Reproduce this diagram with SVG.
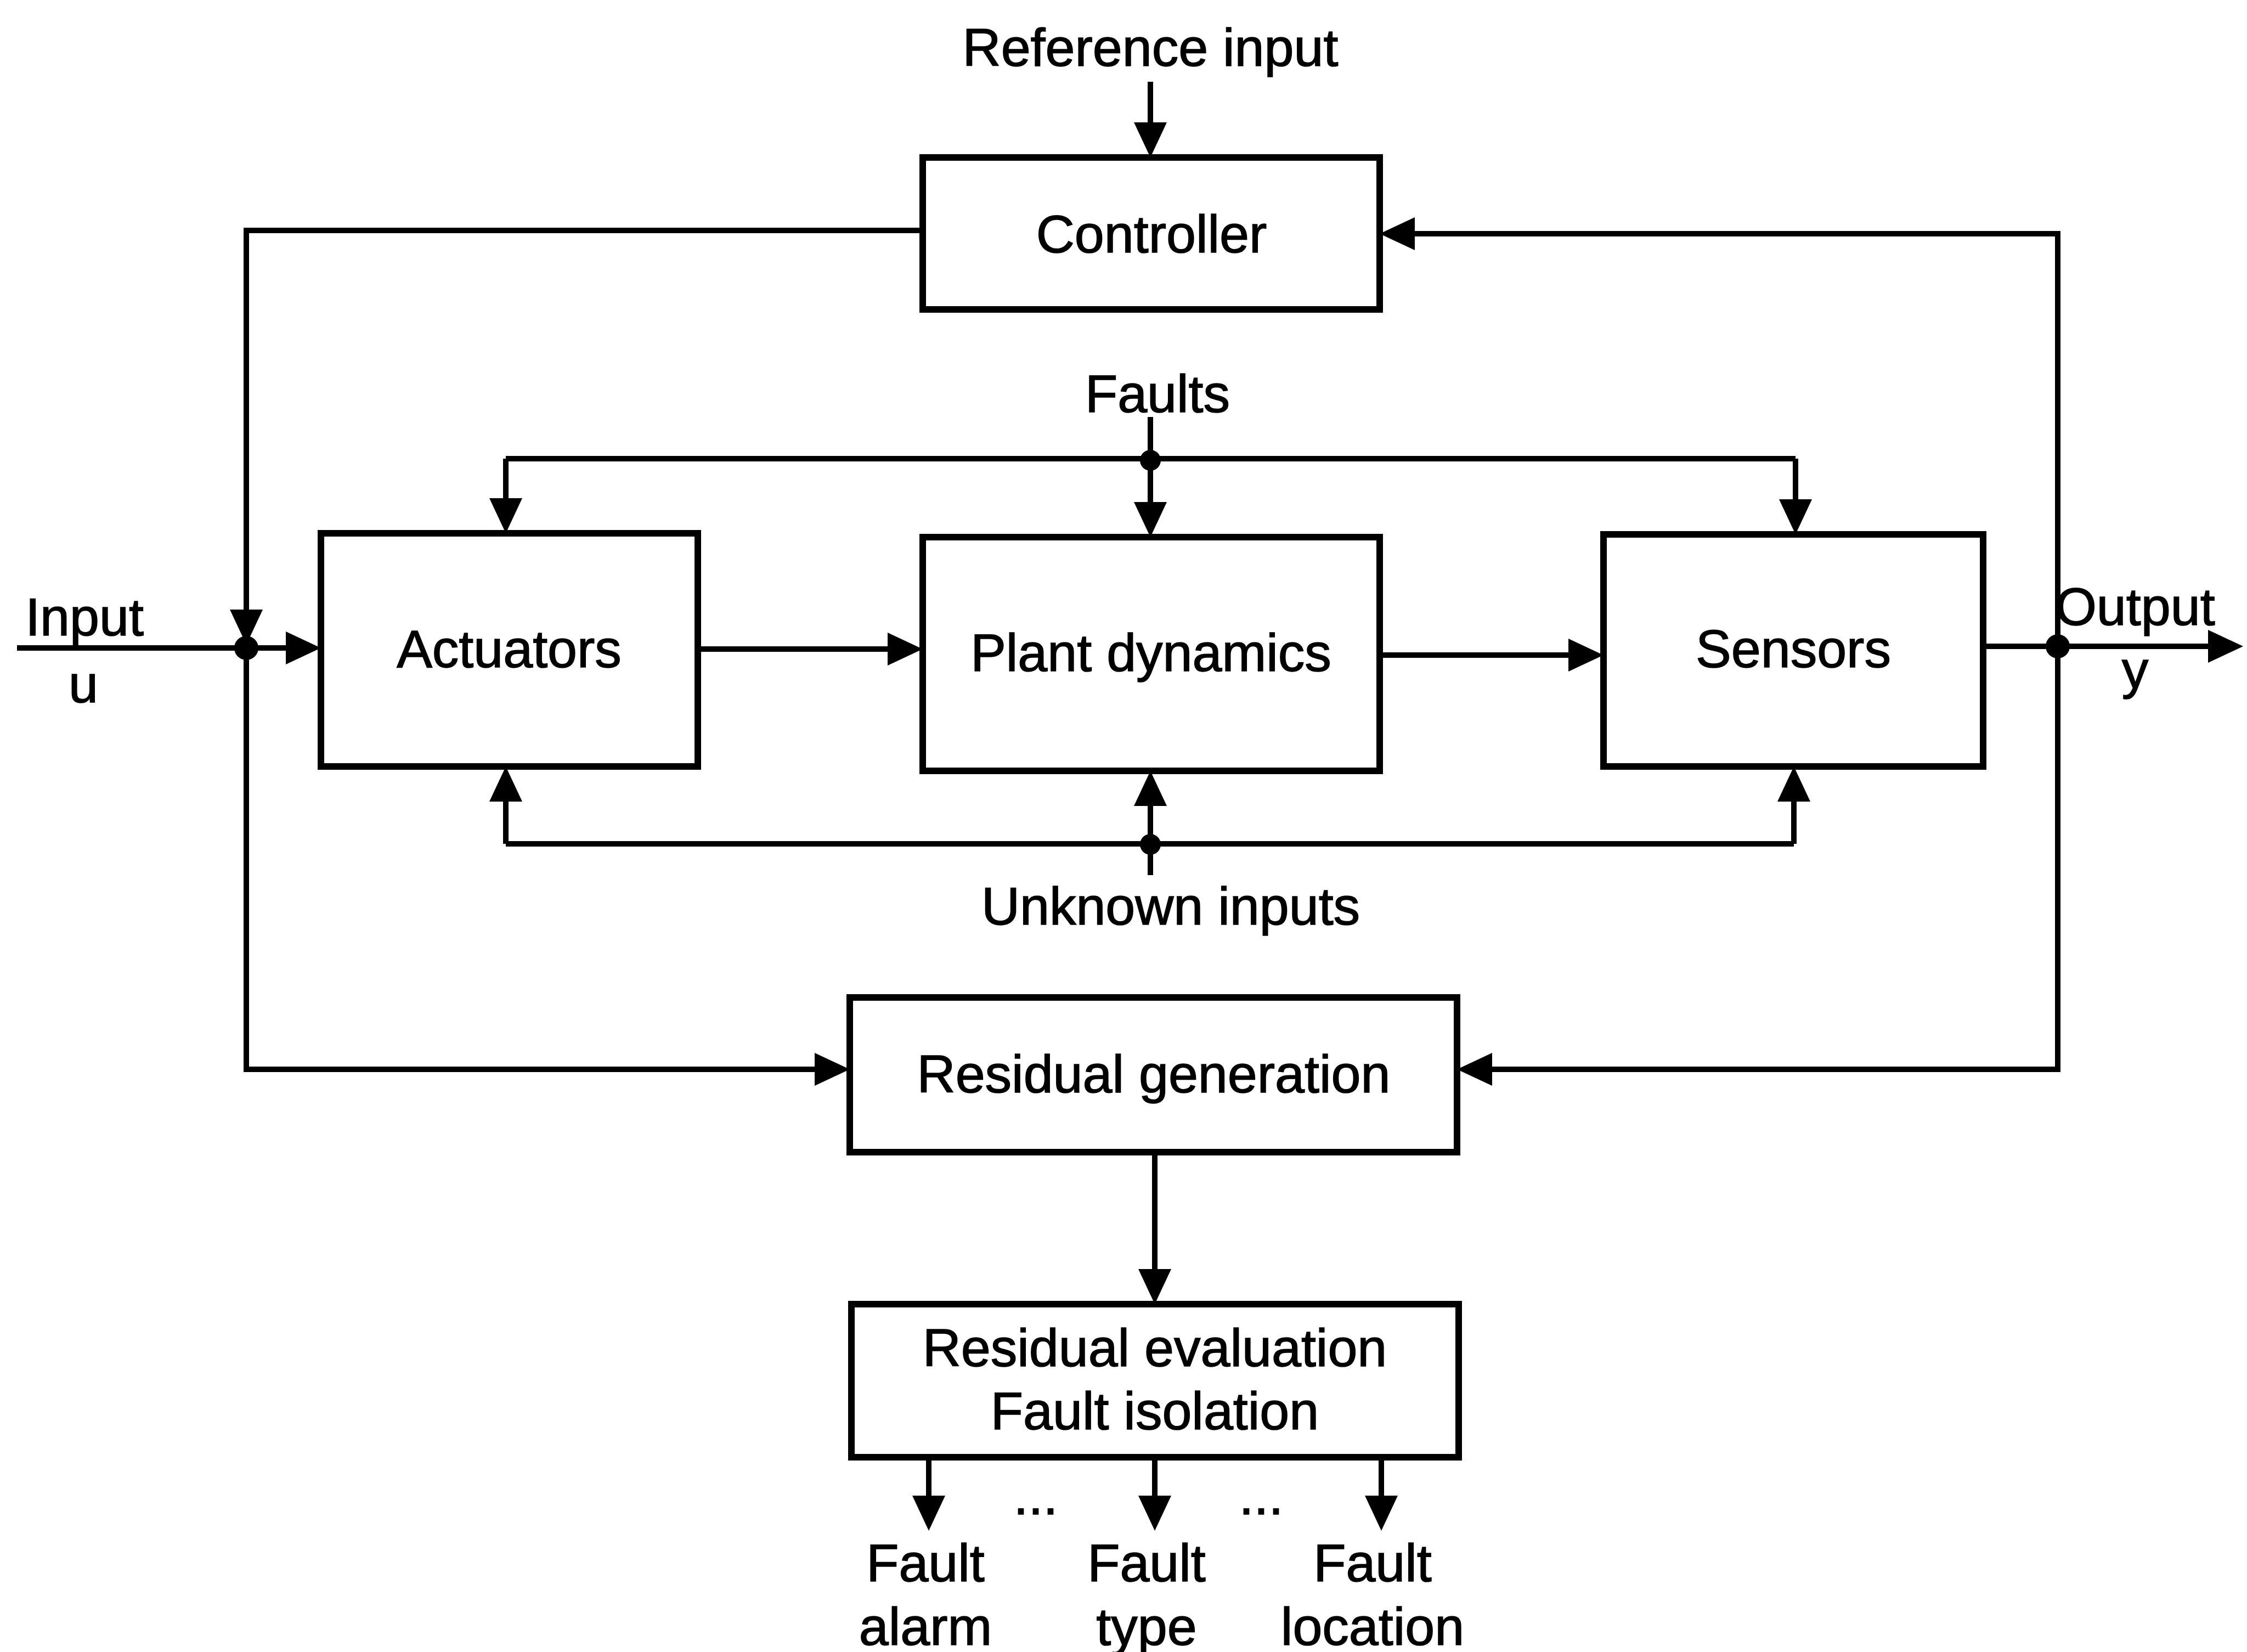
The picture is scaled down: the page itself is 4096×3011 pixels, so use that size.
<svg xmlns="http://www.w3.org/2000/svg" width="4096" height="3011" viewBox="0 0 4096 3011">
<defs>
<style>
.box{fill:#fff;stroke:#000;stroke-width:12}
.ln{fill:none;stroke:#000;stroke-width:10;marker-end:url(#ah)}
.pl{fill:none;stroke:#000;stroke-width:10}
.t{font-family:"Liberation Sans",Arial,Helvetica,sans-serif;font-size:97px;fill:#000;stroke:#000;stroke-width:1.5;text-anchor:middle}
.dot{fill:#000}
</style>
<marker id="ah" viewBox="0 0 64 60" refX="50" refY="30" markerWidth="64" markerHeight="60" markerUnits="userSpaceOnUse" orient="auto">
<path d="M0,0 L64,30 L0,60 Z" fill="#000"/>
</marker>
</defs>
<rect width="4096" height="3011" fill="#fff"/>

<g id="connectors">
<path class="ln" d="M2097,149 L2097,273"/>
<path class="ln" d="M1682,420 L449,420 L449,1161"/>
<path class="ln" d="M449,1181 L449,1949 L1535,1949"/>
<path class="ln" d="M31,1181 L571,1181"/>
<path class="ln" d="M1272,1183 L1668,1183"/>
<path class="ln" d="M2515,1194 L2909,1194"/>
<path class="ln" d="M3615,1178 L4075,1178"/>
<path class="ln" d="M3751,1178 L3751,426 L2529,426"/>
<path class="ln" d="M3751,1178 L3751,1949 L2670,1949"/>
<path class="pl" d="M2097,760 L2097,841"/>
<path class="ln" d="M922,836 L922,958"/>
<path class="pl" d="M922,836 L3273,836"/>
<path class="ln" d="M2097,841 L2097,965"/>
<path class="ln" d="M3273,836 L3273,960"/>
<path class="pl" d="M922,1538 L3270,1538"/>
<path class="pl" d="M2097,1540 L2097,1595"/>
<path class="ln" d="M922,1538 L922,1411"/>
<path class="ln" d="M2097,1540 L2097,1419"/>
<path class="ln" d="M3270,1538 L3270,1411"/>
<path class="ln" d="M2105,2100 L2105,2363"/>
<path class="ln" d="M1693,2656 L1693,2776"/>
<path class="ln" d="M2105,2656 L2105,2776"/>
<path class="ln" d="M2518,2656 L2518,2776"/>
<circle class="dot" cx="449" cy="1181" r="22"/>
<circle class="dot" cx="3751" cy="1178" r="22"/>
<circle class="dot" cx="2097" cy="839" r="19"/>
<circle class="dot" cx="2097" cy="1539" r="19"/>
</g>

<g id="controller">
<rect class="box" x="1682" y="287" width="833" height="277"/>
<text class="t" x="2099" y="460">Controller</text>
</g>
<g id="actuators">
<rect class="box" x="585" y="972" width="687" height="425"/>
<text class="t" x="928" y="1216">Actuators</text>
</g>
<g id="plant">
<rect class="box" x="1682" y="979" width="833" height="426"/>
<text class="t" x="2098" y="1223">Plant dynamics</text>
</g>
<g id="sensors">
<rect class="box" x="2923" y="974" width="692" height="423"/>
<text class="t" x="3269" y="1216">Sensors</text>
</g>
<g id="residual-generation">
<rect class="box" x="1549" y="1818" width="1107" height="282"/>
<text class="t" x="2103" y="1991">Residual generation</text>
</g>
<g id="residual-evaluation">
<rect class="box" x="1552" y="2377" width="1107" height="279"/>
<text class="t" x="2105" y="2490">Residual evaluation</text>
<text class="t" x="2105" y="2605">Fault isolation</text>
</g>

<g id="labels">
<text class="t" x="2097" y="120">Reference input</text>
<text class="t" x="2110" y="751">Faults</text>
<text class="t" x="2134" y="1685">Unknown inputs</text>
<text class="t" x="154" y="1158">Input</text>
<text class="t" x="152" y="1280">u</text>
<text class="t" x="3892" y="1139">Output</text>
<text class="t" x="3892" y="1254">y</text>
<text class="t" x="1888" y="2760">...</text>
<text class="t" x="2299" y="2760">...</text>
<text class="t" x="1687" y="2882">Fault</text>
<text class="t" x="1687" y="2998">alarm</text>
<text class="t" x="2090" y="2882">Fault</text>
<text class="t" x="2090" y="2998">type</text>
<text class="t" x="2502" y="2882">Fault</text>
<text class="t" x="2502" y="2998">location</text>
</g>
</svg>
